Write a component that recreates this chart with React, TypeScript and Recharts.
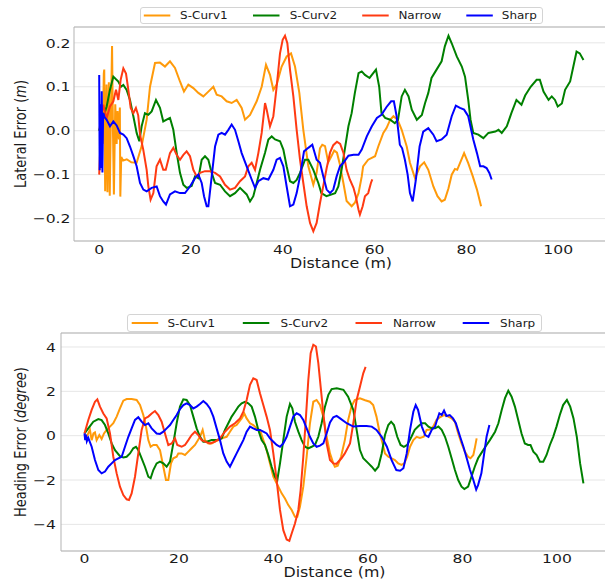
import React from 'react';
import { LineChart, Line, XAxis, YAxis, CartesianGrid, ReferenceLine, Legend } from 'recharts';

const FONT = '"DejaVu Sans", sans-serif';
const STRETCH = 1.2; // the reference figure is a bit wider than tall, text included
const INK = '#1a1a1a';
const SPINE = '#b3b3b3';
const GRID = '#e6e6e6';

const seriesNames = ['S-Curv1', 'S-Curv2', 'Narrow', 'Sharp'];
const seriesColors = ['#ff9a0a', '#008000', '#ff3a12', '#0000ff'];

const distanceTicks = [0, 20, 40, 60, 80, 100];
const lateralTicks = [-0.2, -0.1, 0, 0.1, 0.2];
const headingTicks = [-4, -2, 0, 2, 4];

// [distance (m), lateral error (m)]
const latScurv1 = [
  [0, 0], [0.3, 0.02], [0.5, 0.05], [0.76, -0.03], [1.0, 0.13], [1.1, 0.139], [1.3, -0.138], [1.6, 0.105],
  [1.8, -0.14], [2.1, 0.11], [2.3, -0.148], [2.55, 0.04], [2.8, 0.193], [3.0, 0.0], [3.2, -0.145], [3.5, 0.06],
  [3.8, -0.03], [4.0, 0.045], [4.3, -0.02], [4.5, 0.053], [4.6, -0.15], [4.8, -0.06], [5.2, -0.068], [6, -0.065],
  [7, -0.072], [8.16, -0.073], [9.25, -0.035], [10.34, 0.025], [11.07, 0.1], [12.16, 0.154], [13.24, 0.155],
  [14.33, 0.146], [15.42, 0.158], [16.51, 0.143], [17.6, 0.112], [18.47, 0.089], [19.42, 0.105], [20.51, 0.097],
  [21.6, 0.086], [22.69, 0.078], [23.78, 0.089], [24.87, 0.1], [25.6, 0.082], [26.68, 0.078], [27.77, 0.067],
  [28.86, 0.063], [29.95, 0.07], [31.04, 0.052], [31.77, 0.025], [32.86, 0.036], [34.31, 0.067], [35.4, 0.1],
  [36.34, 0.15], [37.21, 0.127], [37.94, 0.093], [38.66, 0.105], [39.75, 0.146], [40.84, 0.169], [41.79, 0.176],
  [42.66, 0.146], [43.6, 0.086], [44.47, 0.002], [45.56, -0.081], [46.65, -0.123], [47.37, -0.096], [48.1, -0.04],
  [48.6, -0.032], [49.2, -0.035], [49.9, -0.072], [50.5, -0.06], [51.2, -0.045], [51.8, -0.05], [52.4, -0.075],
  [53.2, -0.119], [53.9, -0.16], [55.0, -0.172], [55.7, -0.164], [56.5, -0.142], [57.2, -0.104], [57.5, -0.081],
  [58.6, -0.066], [60.1, -0.058], [60.8, -0.036], [61.9, -0.005], [62.6, 0.006], [63.4, 0.025], [64.1, 0.033],
  [65.0, 0.025], [65.9, 0.002], [67.0, -0.036], [67.7, -0.073], [68.8, -0.108], [69.9, -0.081], [70.8, -0.072],
  [71.7, -0.089], [72.8, -0.127], [73.7, -0.149], [74.6, -0.161], [75.3, -0.157], [76.1, -0.131], [76.8, -0.1],
  [77.5, -0.087], [78.0, -0.089], [78.6, -0.074], [79.5, -0.051], [80.4, -0.074], [81.4, -0.104], [82.3, -0.134],
  [83.2, -0.172],
];

const latScurv2 = [
  [0, 0], [0.54, 0.02], [1.63, 0.055], [2.35, 0.093], [3.08, 0.123], [3.66, 0.117], [4.17, 0.112], [4.75, 0.1],
  [5.26, 0.104], [5.98, 0.093], [6.71, 0.07], [7.44, 0.033], [8.16, -0.005], [8.74, -0.024], [9.25, 0.01],
  [9.97, 0.04], [10.7, 0.036], [11.43, 0.044], [12.37, 0.07], [13.24, 0.052], [13.96, 0.021], [14.69, 0.025],
  [15.42, 0.029], [16.15, 0.002], [16.87, -0.05], [17.6, -0.096], [18.33, -0.123], [19.05, -0.13], [20.14, -0.126],
  [20.87, -0.104], [21.6, -0.108], [22.33, -0.066], [23.05, -0.058], [23.78, -0.066], [24.51, -0.096],
  [25.24, -0.119], [26.33, -0.123], [27.41, -0.138], [28.5, -0.149], [29.59, -0.142], [30.68, -0.13],
  [32.13, -0.145], [32.86, -0.161], [33.58, -0.149], [34.31, -0.119], [35.04, -0.089], [36.13, -0.05],
  [36.86, -0.02], [37.58, -0.013], [38.31, -0.02], [39.4, -0.024], [40.12, -0.043], [40.84, -0.081],
  [41.57, -0.115], [42.3, -0.119], [43.02, -0.112], [43.75, -0.096], [44.84, -0.066], [45.56, -0.066],
  [46.65, -0.089], [47.74, -0.119], [48.4, -0.142], [49.5, -0.149], [51.4, -0.142], [52.1, -0.127], [52.8, -0.089],
  [53.5, -0.043], [54.3, 0.01], [55.0, 0.04], [55.7, 0.086], [56.5, 0.131], [57.2, 0.135], [57.9, 0.127],
  [58.9, 0.12], [59.7, 0.131], [60.3, 0.139], [61.0, 0.1], [61.5, 0.04], [62.3, 0.029], [63.4, 0.025],
  [64.4, 0.017], [65.1, 0.025], [65.9, 0.078], [66.6, 0.093], [67.4, 0.078], [68.1, 0.048], [69.2, 0.025],
  [70.3, 0.036], [71.0, 0.063], [71.7, 0.086], [72.4, 0.12], [73.5, 0.139], [74.6, 0.158], [75.3, 0.192],
  [76.1, 0.216], [76.8, 0.199], [77.9, 0.169], [79.0, 0.146], [79.7, 0.123], [80.4, 0.07], [80.9, 0.025],
  [81.5, -0.005], [82.6, -0.009], [83.7, -0.017], [84.8, -0.005], [86.3, -0.002], [87.0, 0.002], [87.7, -0.005],
  [88.8, 0.01], [89.8, 0.04], [90.9, 0.07], [92.0, 0.059], [92.8, 0.08], [94.0, 0.1], [95.3, 0.116], [96.0, 0.116],
  [96.8, 0.089], [97.9, 0.07], [98.6, 0.078], [99.3, 0.07], [99.9, 0.055], [100.8, 0.062], [101.5, 0.093],
  [102.6, 0.112], [103.3, 0.146], [104.0, 0.18], [104.7, 0.176], [105.5, 0.161],
];

const latNarrow = [
  [0, -0.1], [0.3, -0.02], [0.54, 0.04], [0.9, 0.059], [1.3, 0.04], [1.63, 0.029], [2.35, 0.055], [3.08, 0.067],
  [3.66, 0.093], [4.17, 0.07], [4.68, 0.116], [5.26, 0.142], [5.84, 0.13], [6.35, 0.093], [6.86, 0.052],
  [7.44, 0.04], [8.0, 0.052], [8.5, 0.035], [8.9, -0.009], [9.6, -0.043], [10.34, -0.089], [10.7, -0.126],
  [11.2, -0.157], [11.8, -0.142], [12.5, -0.081], [13.24, -0.066], [13.96, -0.089], [14.5, -0.089],
  [15.42, -0.051], [16.15, -0.039], [16.87, -0.055], [17.6, -0.066], [18.33, -0.055], [19.05, -0.047],
  [19.78, -0.058], [20.51, -0.089], [21.23, -0.104], [21.96, -0.096], [23.05, -0.092], [24.14, -0.092],
  [25.24, -0.096], [26.33, -0.104], [27.41, -0.123], [28.5, -0.134], [29.59, -0.13], [30.68, -0.115],
  [31.77, -0.104], [32.49, -0.081], [33.22, -0.073], [33.95, -0.089], [34.67, -0.051], [35.4, -0.005],
  [36.13, 0.063], [36.49, 0.048], [37.21, 0.01], [37.94, 0.033], [38.66, 0.1], [39.39, 0.176], [39.97, 0.207],
  [40.48, 0.216], [40.99, 0.199], [41.57, 0.139], [42.3, 0.078], [43.02, 0.002], [43.75, -0.066], [44.47, -0.119],
  [45.2, -0.172], [45.93, -0.21], [46.65, -0.229], [47.37, -0.21], [48.1, -0.165], [48.83, -0.125],
  [49.56, -0.085], [50.29, -0.05], [51.0, -0.033], [51.8, -0.025], [52.5, -0.03], [53.2, -0.05], [53.9, -0.089],
  [54.6, -0.111], [55.4, -0.13], [55.9, -0.149], [56.5, -0.18], [56.8, -0.191], [57.4, -0.172], [57.9, -0.149],
  [58.6, -0.142], [59.2, -0.119], [59.5, -0.111],
];

const latSharp = [
  [0, 0.127], [0.1, -0.09], [0.25, 0.06], [0.4, -0.085], [0.55, 0.09], [0.7, -0.095], [0.85, 0.04], [1.2, 0.03],
  [1.63, 0.025], [2.35, 0.01], [3.08, 0.021], [3.8, 0.012], [4.53, -0.005], [5.26, -0.009], [5.98, -0.017],
  [6.71, -0.036], [7.44, -0.058], [8.16, -0.081], [8.89, -0.119], [9.62, -0.134], [10.34, -0.138], [11.43, -0.13],
  [12.52, -0.127], [13.24, -0.149], [13.96, -0.161], [14.55, -0.168], [15.42, -0.145], [16.51, -0.138],
  [17.6, -0.142], [18.69, -0.142], [19.78, -0.127], [20.87, -0.108], [21.6, -0.1], [22.33, -0.119],
  [22.84, -0.149], [23.42, -0.172], [23.78, -0.172], [24.51, -0.104], [25.24, -0.036], [25.96, -0.009],
  [26.68, -0.005], [27.41, -0.009], [28.14, 0.002], [28.86, 0.014], [29.59, 0.002], [30.32, -0.024],
  [31.04, -0.051], [32.13, -0.081], [33.22, -0.111], [33.95, -0.13], [34.67, -0.115], [35.76, -0.108],
  [36.86, -0.111], [37.94, -0.089], [38.66, -0.066], [39.39, -0.062], [40.12, -0.081], [40.84, -0.127],
  [41.57, -0.172], [42.3, -0.168], [43.02, -0.142], [43.75, -0.104], [44.62, -0.047], [45.56, -0.039],
  [46.43, -0.032], [47.37, -0.066], [48.1, -0.073], [48.83, -0.104], [49.56, -0.134], [50.29, -0.142],
  [51.0, -0.134], [51.73, -0.104], [52.46, -0.081], [53.2, -0.073], [54.3, -0.057], [55.4, -0.055], [56.5, -0.055],
  [57.2, -0.043], [58.3, -0.013], [59.4, 0.01], [60.5, 0.029], [61.5, 0.036], [62.6, 0.054], [63.6, 0.067],
  [64.2, 0.067], [64.8, 0.033], [65.5, -0.032], [66.0, -0.04], [66.6, -0.066], [67.2, -0.1], [67.7, -0.142],
  [68.3, -0.161], [69.0, -0.111], [69.8, -0.036], [70.6, -0.002], [71.7, 0.006], [72.8, -0.009], [73.5, -0.024],
  [74.6, -0.02], [75.7, -0.009], [76.8, 0.033], [77.7, 0.057], [78.6, 0.052], [79.5, 0.048], [80.4, 0.033],
  [81.5, -0.02], [82.3, -0.051], [83.0, -0.081], [83.7, -0.081], [84.4, -0.085], [85.0, -0.096], [85.5, -0.111],
];

// [distance (m), heading error (degree)]
const headScurv1 = [
  [0, 0.05], [0.46, -0.05], [1.16, 0.26], [1.52, -0.2], [1.9, 0.1], [2.22, 0.15], [2.57, -0.2], [3.14, 0.03],
  [3.63, -0.15], [4.13, 0.1], [4.69, 0.26], [5.4, 0.41], [6.1, 0.56], [6.81, 0.86], [7.51, 1.23], [8.22, 1.58],
  [8.92, 1.65], [9.98, 1.65], [11.04, 1.61], [11.75, 1.39], [12.45, 0.93], [13.02, 0.41], [13.51, -0.2],
  [14.0, -0.5], [14.57, -0.42], [15.27, -0.42], [15.98, -0.65], [16.69, -1.4], [17.25, -2.0], [17.74, -2.0],
  [18.31, -1.25], [18.8, -1.02], [19.51, -0.95], [19.86, -0.8], [20.56, -0.8], [21.27, -0.87], [21.98, -0.72],
  [22.68, -0.57], [23.39, -0.42], [24.45, -0.05], [25.01, 0.26], [25.5, -0.2], [26.21, -0.35], [26.91, -0.35],
  [27.62, -0.27], [28.32, -0.2], [29.03, -0.12], [30.09, -0.05], [30.79, 0.18], [31.5, 0.41], [32.2, 0.48],
  [33.26, 0.78], [33.83, 1.0], [34.32, 0.78], [35.03, 0.56], [35.73, 0.48], [36.44, 0.33], [37.14, 0.26],
  [37.85, -0.2], [38.55, -0.65], [39.26, -1.25], [39.97, -1.85], [41.03, -2.3], [41.73, -2.6], [42.43, -2.83],
  [43.14, -3.13], [43.85, -3.35], [44.55, -3.66], [45.04, -3.66], [45.61, -3.2], [46.31, -2.3], [47.02, -0.95],
  [47.72, 0.56], [48.43, 1.53], [49.13, 1.61], [49.84, 1.39], [50.55, 0.86], [51.25, -0.05], [51.96, -0.8],
  [52.66, -1.25], [53.0, -1.4], [53.6, -1.35], [54.3, -0.95], [55.1, -0.2], [55.8, 0.7], [56.5, 1.31],
  [57.2, 1.61], [58.3, 1.69], [59.4, 1.6], [60.4, 1.53], [61.1, 1.38], [61.8, 0.86], [62.5, 0.1], [63.1, -0.35],
  [63.6, -0.8], [64.3, -0.95], [65.0, -1.02], [65.7, -1.1], [66.4, -1.25], [67.1, -1.32], [67.7, -1.25],
  [68.3, -0.95], [68.9, -0.5], [69.6, -0.2], [70.3, -0.05], [71.0, -0.1], [71.8, -0.05], [72.4, 0.26],
  [73.1, 0.28], [73.8, 0.41], [74.5, 0.71], [75.2, 0.83], [76.1, 0.93], [77.0, 0.86], [77.7, 0.78], [78.4, 0.63],
  [79.1, 0.1], [79.8, -0.35], [80.5, -0.72], [81.2, -0.95], [81.7, -1.02], [82.3, -0.87], [82.6, -0.57],
  [83.0, -0.12],
];

const headScurv2 = [
  [0, 0.1], [0.81, 0.33], [1.87, 0.63], [2.93, 0.75], [3.63, 0.7], [4.34, 0.48], [5.04, 0.1], [5.75, -0.35],
  [6.46, -0.65], [7.51, -0.92], [8.22, -0.98], [8.92, -0.95], [9.63, -0.8], [10.33, -0.57], [10.9, -0.5],
  [11.39, -0.65], [12.1, -1.02], [12.8, -1.4], [13.51, -1.85], [14.0, -1.92], [14.57, -1.55], [15.27, -1.25],
  [15.98, -1.17], [16.69, -1.25], [17.39, -1.4], [18.1, -1.17], [18.8, -0.35], [19.51, 0.56], [20.21, 1.31],
  [20.92, 1.64], [21.62, 1.61], [22.33, 1.38], [23.03, 0.86], [23.74, 0.33], [24.45, -0.05], [25.15, -0.27],
  [25.86, -0.27], [26.91, -0.2], [27.97, -0.2], [29.03, -0.12], [29.73, 0.26], [30.44, 0.56], [31.15, 0.86],
  [31.85, 1.08], [32.56, 1.31], [33.26, 1.46], [33.97, 1.53], [34.67, 1.46], [35.38, 1.31], [36.08, 0.86],
  [36.79, 0.26], [37.49, -0.2], [38.2, -0.42], [38.91, -0.87], [39.61, -1.4], [40.32, -1.85], [40.81, -2.0],
  [41.38, -1.25], [42.08, -0.2], [42.79, 0.86], [43.49, 1.43], [43.99, 1.23], [44.55, 0.63], [45.26, 0.18],
  [45.96, -0.2], [46.67, -0.5], [47.37, -0.57], [48.08, -0.5], [48.78, -0.42], [49.49, -0.05], [50.19, 0.56],
  [50.9, 1.31], [51.61, 1.84], [52.31, 2.1], [53.4, 2.14], [54.8, 2.07], [55.8, 1.76], [56.9, 1.16], [57.6, 0.26],
  [58.3, -0.65], [59.0, -1.02], [60.1, -1.25], [60.8, -1.4], [61.5, -1.58], [62.2, -1.4], [62.9, -0.8],
  [63.6, 0.03], [64.3, 0.48], [64.9, 0.63], [65.5, 0.48], [66.2, -0.05], [66.9, -0.42], [67.6, -0.5],
  [68.3, -0.42], [69.2, -0.05], [69.9, 0.26], [70.6, 0.41], [71.4, 0.56], [72.1, 0.56], [72.8, 0.41], [73.5, 0.33],
  [74.2, 0.33], [74.9, 0.41], [75.6, 0.26], [76.3, -0.05], [77.0, -0.5], [77.7, -1.02], [78.4, -1.55],
  [79.1, -2.0], [79.8, -2.3], [80.4, -2.41], [81.2, -2.3], [81.9, -1.85], [82.6, -1.4], [83.3, -1.02],
  [84.4, -0.65], [85.1, -0.42], [85.8, -0.2], [86.9, 0.18], [87.6, 0.56], [88.3, 1.16], [89.0, 1.69], [89.7, 2.03],
  [90.4, 1.76], [91.1, 1.31], [91.8, 0.71], [92.5, 0.1], [93.2, -0.35], [93.9, -0.42], [94.4, -0.42],
  [95.0, -0.72], [95.7, -0.87], [96.4, -1.17], [97.1, -1.17], [97.8, -0.87], [98.5, -0.42], [99.2, -0.05],
  [99.9, 0.41], [100.6, 0.93], [101.3, 1.38], [102.1, 1.61], [102.8, 1.31], [103.5, 0.78], [104.2, -0.05],
  [104.9, -1.25], [105.6, -2.15],
];

const headNarrow = [
  [0, 0.1], [0.81, 0.71], [1.52, 1.16], [2.22, 1.53], [2.72, 1.64], [3.28, 1.31], [3.99, 1.0], [4.69, 0.78],
  [5.4, 0.1], [6.1, -0.95], [6.81, -1.7], [7.51, -2.3], [8.22, -2.68], [8.92, -2.87], [9.42, -2.9], [9.98, -2.6],
  [10.69, -1.85], [11.39, -0.8], [12.1, 0.26], [12.8, 0.78], [13.51, 0.86], [14.22, 1.0], [14.92, 1.11],
  [15.63, 0.93], [16.33, 0.63], [17.04, 0.1], [17.74, -0.42], [18.45, -0.35], [19.15, -0.12], [19.65, -0.42],
  [20.56, -0.5], [21.27, -0.42], [21.98, -0.2], [22.68, 0.03], [23.39, 0.18], [24.09, 0.03], [24.8, -0.2],
  [25.5, -0.27], [26.56, -0.35], [27.62, -0.27], [28.68, -0.12], [29.73, 0.18], [30.79, 0.41], [31.85, 0.56],
  [32.91, 0.78], [33.62, 1.08], [34.32, 1.61], [35.03, 2.29], [35.73, 2.59], [36.44, 2.51], [37.14, 1.91],
  [37.85, 1.38], [38.55, 0.86], [39.26, 0.26], [39.97, -0.8], [40.67, -2.0], [41.38, -3.35], [42.08, -4.26],
  [42.79, -4.68], [43.36, -4.74], [43.85, -4.41], [44.55, -3.96], [45.26, -3.35], [45.75, -2.45], [46.31, -0.95],
  [46.88, 0.86], [47.37, 2.51], [47.87, 3.72], [48.43, 4.1], [48.99, 4.02], [49.49, 3.27], [49.98, 2.21],
  [50.55, 1.01], [51.25, -0.35], [51.96, -1.1], [52.66, -1.25], [53.3, -1.27], [54.4, -1.02], [55.1, -0.8],
  [56.2, -0.35], [56.9, 0.56], [57.6, 1.61], [58.3, 2.21], [59.0, 2.81], [59.5, 3.1],
];

const headSharp = [
  [0, 0.1], [0.15, -0.2], [0.32, 0.05], [0.5, -0.25], [0.81, -0.1], [1.52, -0.5], [2.22, -1.1], [2.93, -1.55],
  [3.63, -1.7], [4.34, -1.62], [5.04, -1.4], [5.75, -1.25], [6.46, -1.1], [7.16, -1.02], [7.87, -0.95],
  [8.57, -0.5], [9.28, -0.05], [9.98, 0.33], [10.69, 0.71], [11.39, 0.83], [12.1, 0.63], [12.8, 0.48],
  [13.51, 0.56], [14.22, 0.33], [15.27, 0.1], [15.98, 0.08], [16.69, 0.18], [17.39, 0.33], [18.1, 0.48],
  [18.8, 0.71], [19.51, 0.93], [20.21, 1.2], [20.92, 1.38], [21.62, 1.46], [22.33, 1.38], [23.03, 1.23],
  [23.74, 1.31], [24.45, 1.43], [25.15, 1.56], [25.86, 1.43], [26.56, 1.23], [27.27, 0.86], [27.97, 0.33],
  [28.68, -0.2], [29.38, -0.8], [30.09, -1.17], [30.79, -1.4], [31.5, -1.1], [32.2, -0.8], [32.91, -0.5],
  [33.62, -0.2], [34.32, 0.18], [35.03, 0.41], [35.73, 0.33], [36.44, 0.26], [37.14, 0.26], [37.85, 0.18],
  [38.55, 0.1], [39.26, -0.12], [39.97, -0.27], [40.67, -0.42], [41.38, -0.5], [42.08, -0.35], [42.79, -0.05],
  [43.49, 0.41], [44.2, 0.86], [44.9, 1.01], [45.61, 0.93], [46.31, 0.71], [47.02, 0.33], [47.72, -0.05],
  [48.43, -0.35], [49.13, -0.5], [49.84, -0.45], [50.55, -0.35], [51.25, 0.1], [51.96, 0.6], [52.66, 0.83],
  [53.37, 0.89], [54.1, 0.78], [55.5, 0.56], [56.9, 0.41], [58.3, 0.44], [59.7, 0.44], [60.8, 0.41], [61.8, 0.26],
  [62.9, -0.05], [64.0, -0.5], [65.0, -1.1], [66.0, -1.55], [66.8, -1.58], [67.5, -1.47], [68.2, -0.8],
  [68.9, 0.26], [69.6, 1.08], [70.1, 1.38], [70.6, 1.16], [71.4, 0.41], [72.1, 0.03], [72.8, -0.05], [73.5, 0.26],
  [74.2, 0.41], [74.5, 0.63], [75.1, 1.01], [75.6, 0.93], [76.1, 1.13], [76.6, 0.89], [77.3, 0.93], [78.0, 0.78],
  [78.6, 0.56], [79.5, -0.05], [80.2, -0.5], [80.9, -1.02], [81.6, -1.55], [82.3, -2.0], [82.9, -2.43],
  [83.3, -2.23], [84.0, -1.7], [84.6, -0.8], [85.1, -0.05], [85.7, 0.48],
];

const toPoints = (pairs: number[][]) => pairs.map(([d, v]) => ({ d, v }));
const minus = (s: string) => s.replace('-', '\u2212');

const xTick = (drop: number) => (props: any) => {
  const { x, y, payload } = props;
  return (
    <text
      transform={`translate(${x},${y + drop}) scale(${STRETCH},1)`}
      textAnchor="middle"
      fontFamily={FONT}
      fontSize={13}
      fill={INK}
    >
      {payload.value}
    </text>
  );
};

const yTick = (gap: number, fmt: (v: number) => string) => (props: any) => {
  const { x, y, payload } = props;
  return (
    <text
      transform={`translate(${x - gap},${y + 4.7}) scale(${STRETCH},1)`}
      textAnchor="end"
      fontFamily={FONT}
      fontSize={13}
      fill={INK}
    >
      {fmt(payload.value)}
    </text>
  );
};

const yTitle = (main: string, unit: string) => (props: any) => {
  const { viewBox } = props;
  const cy = viewBox.y + viewBox.height / 2;
  return (
    <text
      transform={`translate(20.5,${cy}) scale(${STRETCH},1) rotate(-90)`}
      y={4.7}
      textAnchor="middle"
      fontFamily={FONT}
      fontSize={13}
      fill={INK}
    >
      {main} (<tspan fontStyle="italic">{unit}</tspan>)
    </text>
  );
};

const xTitle = (gap: number) => (props: any) => {
  const { viewBox } = props;
  return (
    <text
      transform={`translate(${viewBox.x + viewBox.width / 2},${viewBox.y + gap}) scale(${STRETCH},1)`}
      textAnchor="middle"
      fontFamily={FONT}
      fontSize={13.2}
      fill={INK}
    >
      Distance (m)
    </text>
  );
};

const legendBox = (w: number, h: number, lineStarts: number[], textStarts: number[]) => () => (
  <svg width={w} height={h} style={{ display: 'block' }}>
    <rect x={0.5} y={0.5} width={w - 1} height={h - 1} rx={2.5} fill="#fff" fillOpacity={0.85} stroke="#d4d4d4" />
    {seriesNames.map((name, i) => (
      <g key={name}>
        <line x1={lineStarts[i]} x2={lineStarts[i] + 26.5} y1={h / 2} y2={h / 2} stroke={seriesColors[i]} strokeWidth={2} />
        <text
          transform={`translate(${textStarts[i]},${h / 2 + 3.6}) scale(${STRETCH},1)`}
          fontFamily={FONT}
          fontSize={10}
          fill={INK}
        >
          {name}
        </text>
      </g>
    ))}
  </svg>
);

const latSeries = [latScurv1, latScurv2, latNarrow, latSharp].map(toPoints);
const headSeries = [headScurv1, headScurv2, headNarrow, headSharp].map(toPoints);

const LAT_DOMAIN = [-0.251, 0.236];
const HEAD_DOMAIN = [-5.2, 4.63];

export default function App() {
  return (
    <div style={{ position: 'absolute', left: 0, top: 0, width: 605, height: 580, overflow: 'hidden', background: '#fff' }}>
      <div style={{ position: 'absolute', left: 0, top: 0 }}>
        <LineChart width={610} height={290} margin={{ top: 27, right: 2, bottom: 0, left: 0 }}>
          <CartesianGrid vertical={false} stroke={GRID} strokeWidth={1} />
          <XAxis
            dataKey="d"
            type="number"
            domain={[-5.49, 110.85]}
            ticks={distanceTicks}
            interval={0}
            allowDataOverflow
            height={49}
            tickSize={0}
            tickMargin={0}
            tickLine={false}
            axisLine={{ stroke: SPINE }}
            tick={xTick(13)}
            label={{ content: xTitle(27) }}
          />
          <YAxis
            type="number"
            domain={LAT_DOMAIN}
            ticks={lateralTicks}
            interval={0}
            allowDataOverflow
            width={74}
            tickSize={0}
            tickMargin={0}
            tickLine={false}
            axisLine={{ stroke: SPINE }}
            tick={yTick(3.5, (v) => minus(v.toFixed(1)))}
            label={{ content: yTitle('Lateral Error', 'm') }}
          />
          <ReferenceLine y={LAT_DOMAIN[1]} stroke={SPINE} ifOverflow="visible" />
          {latSeries.map((pts, i) => (
            <Line
              key={seriesNames[i]}
              name={seriesNames[i]}
              data={pts}
              dataKey="v"
              type="linear"
              stroke={seriesColors[i]}
              strokeWidth={2}
              dot={false}
              activeDot={false}
              isAnimationActive={false}
            />
          ))}
          <Legend
            layout="horizontal"
            verticalAlign="middle"
            align="center"
            content={legendBox(403, 17, [3.8, 113, 222.2, 326.3], [40.1, 149.7, 258.4, 361.8])}
            wrapperStyle={{ left: 139.7, top: 7.3, width: 403, height: 17 }}
          />
        </LineChart>
      </div>
      <div style={{ position: 'absolute', left: 0, top: 290 }}>
        <LineChart width={610} height={290} margin={{ top: 43, right: 2, bottom: 0, left: 0 }}>
          <CartesianGrid vertical={false} stroke={GRID} strokeWidth={1} />
          <XAxis
            dataKey="d"
            type="number"
            domain={[-4.97, 110.8]}
            ticks={distanceTicks}
            interval={0}
            allowDataOverflow
            height={29}
            tickSize={0}
            tickMargin={0}
            tickLine={false}
            axisLine={{ stroke: SPINE }}
            tick={xTick(12)}
            label={{ content: xTitle(26) }}
          />
          <YAxis
            type="number"
            domain={HEAD_DOMAIN}
            ticks={headingTicks}
            interval={0}
            allowDataOverflow
            width={61}
            tickSize={0}
            tickMargin={0}
            tickLine={false}
            axisLine={{ stroke: SPINE }}
            tick={yTick(5, (v) => minus(String(v)))}
            label={{ content: yTitle('Heading Error', 'degree') }}
          />
          <ReferenceLine y={HEAD_DOMAIN[1]} stroke={SPINE} ifOverflow="visible" />
          {headSeries.map((pts, i) => (
            <Line
              key={seriesNames[i]}
              name={seriesNames[i]}
              data={pts}
              dataKey="v"
              type="linear"
              stroke={seriesColors[i]}
              strokeWidth={2}
              dot={false}
              activeDot={false}
              isAnimationActive={false}
            />
          ))}
          <Legend
            layout="horizontal"
            verticalAlign="middle"
            align="center"
            content={legendBox(415, 18, [4.7, 115.8, 228.5, 335.7], [40.5, 153.6, 265.9, 373.1])}
            wrapperStyle={{ left: 126.5, top: 24.3, width: 415, height: 18 }}
          />
        </LineChart>
      </div>
    </div>
  );
}
